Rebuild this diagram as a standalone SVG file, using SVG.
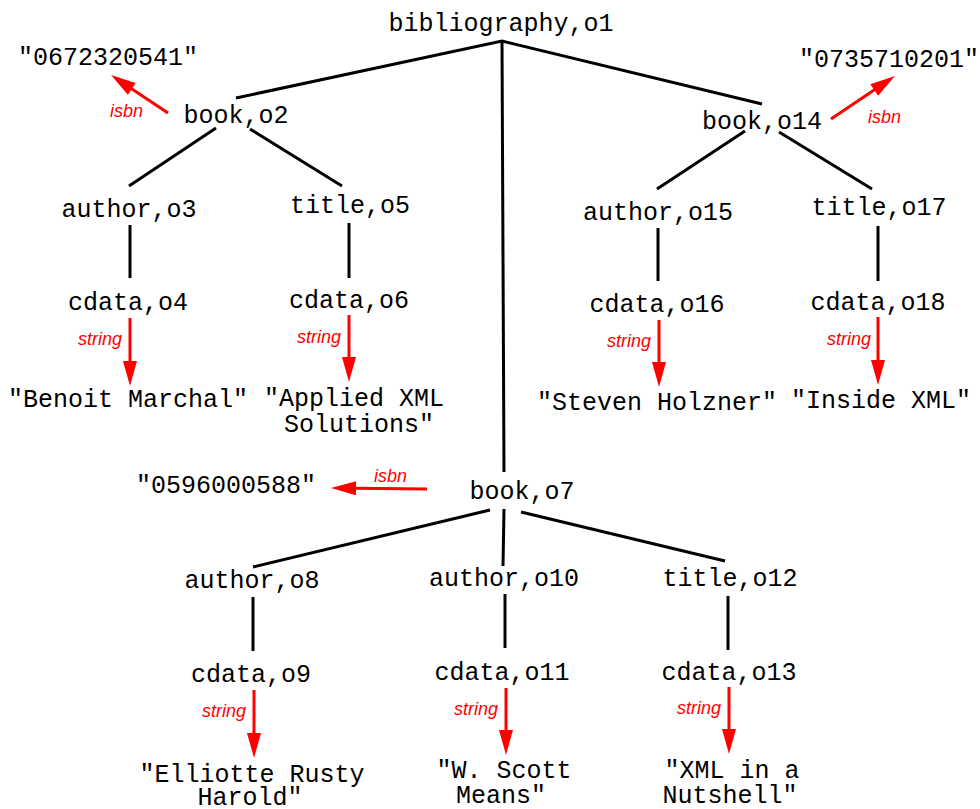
<svg xmlns="http://www.w3.org/2000/svg" width="980" height="809" viewBox="0 0 980 809">
<style>
.n{font-family:"Liberation Mono","Courier New",monospace;font-size:25px;fill:#000;text-anchor:middle}
.e{stroke:#000;stroke-width:3;fill:none}
.r{stroke:#ff0000;stroke-width:3;fill:none;marker-end:url(#ah)}
.l{font-family:"Liberation Sans",Arial,sans-serif;font-style:italic;font-size:18px;fill:#ff0000}
</style>
<defs>
<marker id="ah" markerUnits="userSpaceOnUse" markerWidth="26" markerHeight="15" refX="3" refY="7" orient="auto" overflow="visible">
<path d="M0,0 L25,7 L0,14 z" fill="#ff0000"/>
</marker>
</defs>
<rect width="980" height="809" fill="#fff"/>
<g id="connectors">
<path class="e" d="M236,98 L502,41 L762,104"/>
<path class="e" d="M502,41 L504,472"/>
<path class="e" d="M216,128 L129,186"/>
<path class="e" d="M250,129 L342,186"/>
<path class="e" d="M130,225 L130,278"/>
<path class="e" d="M349,223 L349,278"/>
<path class="e" d="M745,131 L657,189"/>
<path class="e" d="M779,132 L872,189"/>
<path class="e" d="M658,228 L658,281"/>
<path class="e" d="M878,226 L878,281"/>
<path class="e" d="M490,510 L253,567"/>
<path class="e" d="M504,509 L503,566"/>
<path class="e" d="M521,512 L725,561"/>
<path class="e" d="M253,597 L253,651"/>
<path class="e" d="M505,594 L505,648"/>
<path class="e" d="M728,596 L728,650"/>
<path class="r" d="M168,113 L129.3,87.2"/>
<path class="r" d="M831,119 L876.7,88.3"/>
<path class="r" d="M427,489 L353,488.2"/>
<path class="r" d="M130,318 L130,364"/>
<path class="r" d="M349,315 L349,360"/>
<path class="r" d="M659,320 L659,365"/>
<path class="r" d="M878,317 L878,363"/>
<path class="r" d="M254,690 L254,736"/>
<path class="r" d="M506,688 L506,733"/>
<path class="r" d="M729,687 L729,732"/>
<text class="l" x="110" y="117">isbn</text>
<text class="l" x="868" y="123">isbn</text>
<text class="l" x="374" y="482">isbn</text>
<text class="l" x="78" y="345">string</text>
<text class="l" x="297" y="343">string</text>
<text class="l" x="607" y="347">string</text>
<text class="l" x="827" y="345">string</text>
<text class="l" x="202" y="717">string</text>
<text class="l" x="454" y="715">string</text>
<text class="l" x="677" y="714">string</text>
</g>
<g id="o1"><text class="n" x="501" y="31">bibliography,o1</text></g>
<g id="o2"><text class="n" x="236" y="123">book,o2</text></g>
<g id="isbn2"><text class="n" x="108" y="65">"0672320541"</text></g>
<g id="o3"><text class="n" x="129" y="217">author,o3</text></g>
<g id="o5"><text class="n" x="350" y="213">title,o5</text></g>
<g id="o4"><text class="n" x="128" y="310">cdata,o4</text></g>
<g id="o6"><text class="n" x="349" y="308">cdata,o6</text></g>
<g id="v4"><text class="n" x="128" y="407">"Benoit Marchal"</text></g>
<g id="v6"><text class="n" x="354" y="406">"Applied XML</text><text class="n" x="359" y="432">Solutions"</text></g>
<g id="o14"><text class="n" x="762" y="129">book,o14</text></g>
<g id="isbn14"><text class="n" x="889" y="67">"0735710201"</text></g>
<g id="o15"><text class="n" x="658" y="220">author,o15</text></g>
<g id="o17"><text class="n" x="879" y="215">title,o17</text></g>
<g id="o16"><text class="n" x="657" y="312">cdata,o16</text></g>
<g id="o18"><text class="n" x="878" y="310">cdata,o18</text></g>
<g id="v16"><text class="n" x="657" y="410">"Steven Holzner"</text></g>
<g id="v18"><text class="n" x="881" y="408">"Inside XML"</text></g>
<g id="o7"><text class="n" x="522" y="499">book,o7</text></g>
<g id="isbn7"><text class="n" x="226" y="493">"0596000588"</text></g>
<g id="o8"><text class="n" x="252" y="588">author,o8</text></g>
<g id="o10"><text class="n" x="504" y="586">author,o10</text></g>
<g id="o12"><text class="n" x="730" y="586">title,o12</text></g>
<g id="o9"><text class="n" x="251" y="682">cdata,o9</text></g>
<g id="o11"><text class="n" x="502" y="680">cdata,o11</text></g>
<g id="o13"><text class="n" x="729" y="680">cdata,o13</text></g>
<g id="v9"><text class="n" x="252" y="782">"Elliotte Rusty</text><text class="n" x="250" y="805">Harold"</text></g>
<g id="v11"><text class="n" x="504" y="778">"W. Scott</text><text class="n" x="501" y="803">Means"</text></g>
<g id="v13"><text class="n" x="732" y="778">"XML in a</text><text class="n" x="730" y="803">Nutshell"</text></g>
</svg>
